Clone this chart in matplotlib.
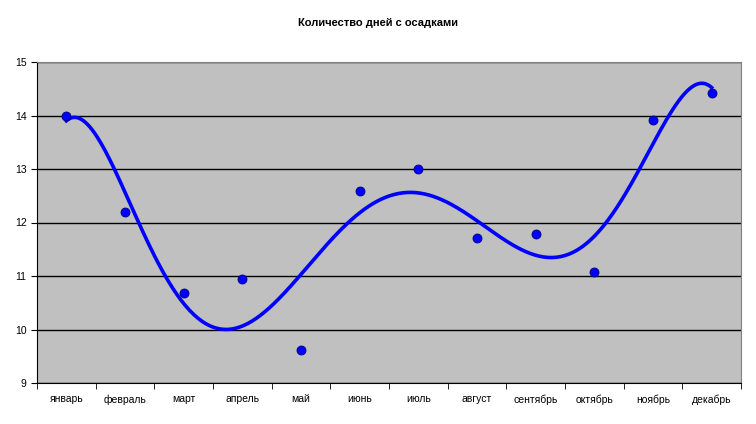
import numpy as np
import matplotlib.pyplot as plt

# Data
months = ['январь', 'февраль', 'март', 'апрель', 'май', 'июнь',
          'июль', 'август', 'сентябрь', 'октябрь', 'ноябрь', 'декабрь']
days = [14.0, 12.2, 10.68, 10.94, 9.62, 12.59, 13.0, 11.71, 11.79, 11.07, 13.92, 14.42]

plt.rcParams['font.family'] = ['Liberation Sans', 'DejaVu Sans']

fig = plt.figure(figsize=(7.56, 4.24), dpi=100)
ax = fig.add_axes([37/756, 41/424, 704/756, 321/424])
ax.set_facecolor('#c0c0c0')

x = np.arange(1, len(months) + 1)

# polynomial trend line (6th order, like Excel)
coef = np.polyfit(x, days, 6)
xs = np.linspace(1, 12, 300)
ax.plot(xs, np.polyval(coef, xs), color='#0000ff', lw=2.6, zorder=3)

ax.scatter(x, days, s=42, color='#0000ff', edgecolor='#000080', lw=0.6, zorder=4)

ax.set_xlim(0.5, 12.5)
ax.set_ylim(9, 15)
ax.set_yticks(range(9, 16))
ax.yaxis.grid(True, color='black', lw=1)
ax.set_axisbelow(True)

ax.set_xticks(x)
ax.set_xticklabels(months, fontsize=7.5)
ax.tick_params(axis='x', length=0, pad=8)
ax.set_xticks(np.arange(0.5, 13, 1), minor=True)
ax.tick_params(axis='x', which='minor', length=4, direction='out', color='black')
ax.tick_params(axis='y', length=4, labelsize=7.5, color='black')

for s in ['top', 'right']:
    ax.spines[s].set_color('#808080')
for s in ['left', 'bottom']:
    ax.spines[s].set_color('black')

fig.text(0.5, 0.945, 'Количество дней с осадками', ha='center', va='center',
         fontsize=8, fontweight='bold')

fig.savefig('out.png', dpi=100)
